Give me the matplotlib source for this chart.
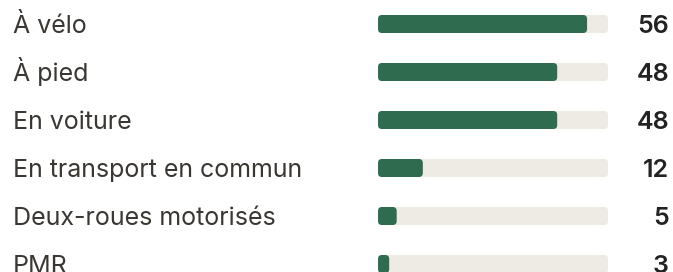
import matplotlib
matplotlib.use("Agg")
import matplotlib.pyplot as plt
from matplotlib.patches import FancyBboxPatch
import matplotlib.transforms as mtransforms

categories = ["À vélo", "À pied", "En voiture", "En transport en commun",
              "Deux-roues motorisés", "PMR"]
values = [56, 48, 48, 12, 5, 3]
value_labels = ["56", "48", "48", "12", "5", "3"]

W, H, DPI = 673, 272, 100
fig = plt.figure(figsize=(W / DPI, H / DPI), dpi=DPI)
fig.patch.set_facecolor("white")

x0, x1 = 378, 608
ax = fig.add_axes([x0 / W, 0, (x1 - x0) / W, 1])
ax.set_axis_off()
xmax = max(values) * 1.1
ax.set_xlim(0, xmax)
row_px = 48
first_c = 24
ax.set_ylim((H - first_c) / row_px, -first_c / row_px)

GREEN = "#2e6b4f"
TRACK = "#eeebe4"
bh = 18 / row_px
ypos = list(range(len(categories)))

tracks = ax.barh(ypos, [xmax] * len(values), height=bh, color=TRACK)
bars = ax.barh(ypos, values, height=bh, color=GREEN)

px_per_x = (x1 - x0) / xmax
aspect = px_per_x / row_px
r = 4 / px_per_x
for container in (tracks, bars):
    for p in container.patches:
        fb = FancyBboxPatch((p.get_x(), p.get_y()), p.get_width(), p.get_height(),
                            boxstyle=f"round,pad=0,rounding_size={min(r, p.get_width()/2)}",
                            mutation_aspect=aspect, facecolor=p.get_facecolor(),
                            edgecolor="none")
        p.remove()
        ax.add_patch(fb)

font_px = 25
fs = font_px * 72 / DPI
base_off = 0.727 * font_px / 2
blend_l = mtransforms.blended_transform_factory(fig.transFigure, ax.transData)
off = mtransforms.offset_copy(blend_l, fig=fig, x=0, y=-base_off * 72 / DPI, units="points")
for i, c in enumerate(categories):
    ax.text(13 / W, i, c, transform=off, ha="left", va="baseline",
            fontsize=fs, family="Inter", color="#3a3733", clip_on=False)
for i, v in enumerate(value_labels):
    ax.text(669 / W, i, v, transform=off, ha="right", va="baseline",
            fontsize=fs, family="Inter", fontweight=600, color="#222222", clip_on=False)

fig.savefig("out.png", dpi=DPI, facecolor="white")
